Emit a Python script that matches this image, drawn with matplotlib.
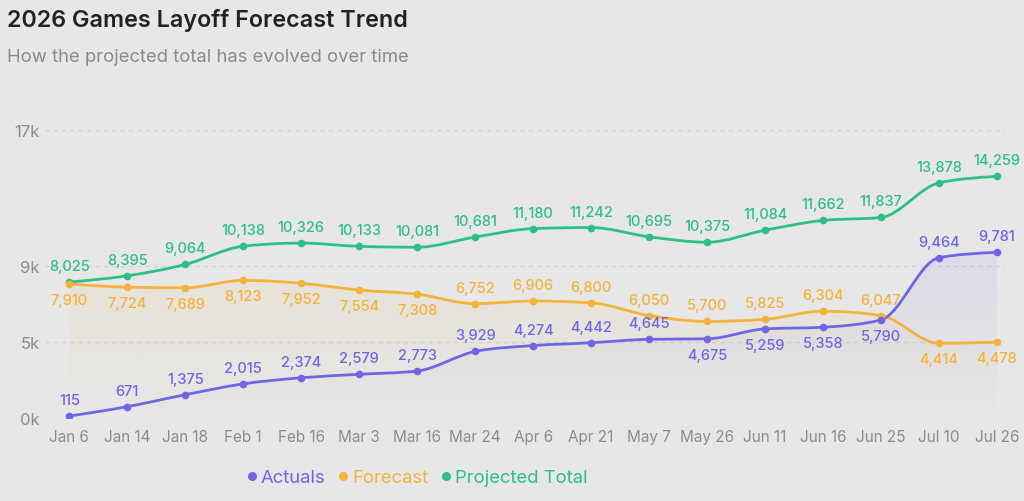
import numpy as np
import matplotlib
matplotlib.use('Agg')
import matplotlib.pyplot as plt
from matplotlib.path import Path
from matplotlib.patches import PathPatch
from matplotlib.lines import Line2D

plt.rcParams['font.family'] = ['Inter', 'DejaVu Sans']

# data
dates = ['Jan 6', 'Jan 14', 'Jan 18', 'Feb 1', 'Feb 16', 'Mar 3', 'Mar 16', 'Mar 24', 'Apr 6',
         'Apr 21', 'May 7', 'May 26', 'Jun 11', 'Jun 16', 'Jun 25', 'Jul 10', 'Jul 26']
actuals = [115, 671, 1375, 2015, 2374, 2579, 2773, 3929, 4274, 4442, 4645, 4675, 5259, 5358, 5790, 9464, 9781]
forecast = [7910, 7724, 7689, 8123, 7952, 7554, 7308, 6752, 6906, 6800, 6050, 5700, 5825, 6304, 6047, 4414, 4478]
projected = [8025, 8395, 9064, 10138, 10326, 10133, 10081, 10681, 11180, 11242, 10695, 10375, 11084, 11662, 11837, 13878, 14259]
ytick_vals = [0, 4500, 9000, 17000]
ytick_labels = ['0k', '5k', '9k', '17k']

# label side: 1 above the point, -1 below
actual_side = [1] * 11 + [-1, -1, -1, -1, 1, 1]
forecast_side = [-1] * 7 + [1] * 8 + [-1, -1]
projected_side = [1] * 17

purple = '#6f66e3'
orange = '#f4b43c'
green = '#2dbf86'
bg = '#e7e7e7'


def monotone_path(x, y):
    # cubic bezier path like d3 curveMonotoneX
    x = np.asarray(x, float)
    y = np.asarray(y, float)
    n = len(x)
    h = np.diff(x)
    s = np.diff(y) / h
    m = np.zeros(n)
    for i in range(1, n - 1):
        p = (s[i - 1] * h[i] + s[i] * h[i - 1]) / (h[i - 1] + h[i])
        m[i] = (np.sign(s[i - 1]) + np.sign(s[i])) * min(abs(s[i - 1]), abs(s[i]), 0.5 * abs(p))
    m[0] = (3 * s[0] - m[1]) / 2
    m[-1] = (3 * s[-1] - m[-2]) / 2
    verts = [(x[0], y[0])]
    codes = [Path.MOVETO]
    for i in range(n - 1):
        d = h[i] / 3
        verts += [(x[i] + d, y[i] + m[i] * d), (x[i + 1] - d, y[i + 1] - m[i + 1] * d), (x[i + 1], y[i + 1])]
        codes += [Path.CURVE4] * 3
    return verts, codes


fig = plt.figure(figsize=(10.24, 5.02), dpi=100, facecolor=bg)
ax = fig.add_axes([45 / 1024, (502 - 419) / 502, 960 / 1024, 288 / 502])
ax.set_facecolor(bg)
xs = np.arange(len(dates))
ax.set_xlim(-0.42, len(dates) - 1 + 0.14)
ax.set_ylim(0, 17000)

# faint gradient areas under actuals and forecast (fade downward)
for vals, col in [(actuals, purple), (forecast, orange)]:
    verts, codes = monotone_path(xs, vals)
    area = verts + [(xs[-1], 0), (xs[0], 0), (xs[0], vals[0])]
    acodes = codes + [Path.LINETO, Path.LINETO, Path.CLOSEPOLY]
    patch = PathPatch(Path(area, acodes), facecolor='none', edgecolor='none')
    ax.add_patch(patch)
    grad = np.zeros((100, 1, 4))
    grad[:, 0, :3] = matplotlib.colors.to_rgb(col)
    grad[:, 0, 3] = np.linspace(0.09, 0.0, 100)
    im = ax.imshow(grad, extent=[xs[0], xs[-1], 0, max(vals)], aspect='auto', zorder=1,
                   origin='upper', interpolation='bilinear')
    im.set_clip_path(patch)

for vals, col, sides in [(projected, green, projected_side), (forecast, orange, forecast_side),
                         (actuals, purple, actual_side)]:
    verts, codes = monotone_path(xs, vals)
    ax.add_patch(PathPatch(Path(verts, codes), facecolor='none', edgecolor=col, lw=2.0, zorder=3,
                           capstyle='round'))
    ax.plot(xs, vals, 'o', color=col, ms=4.5, zorder=4)
    for xi, v, sd in zip(xs, vals, sides):
        ax.annotate(f'{v:,}', (xi, v), xytext=(0, 11.5 * sd), textcoords='offset points',
                    ha='center', va='center', color=col, fontsize=10.5, fontweight='medium', zorder=5)

ax.set_yticks(ytick_vals)
ax.set_yticklabels(ytick_labels)
ax.set_xticks(xs)
ax.set_xticklabels(dates)
ax.tick_params(axis='both', length=0, colors='#8c8c8c', labelsize=11)
ax.tick_params(axis='x', pad=8)
ax.tick_params(axis='y', pad=4, labelsize=12)
for sp in ax.spines.values():
    sp.set_visible(False)
ax.grid(axis='y', color='#d2d2d2', linestyle=(0, (3, 3)), lw=1)
ax.set_axisbelow(True)

fig.text(7 / 1024, 1 - 20 / 502, '2026 Games Layoff Forecast Trend', fontsize=16.8, fontweight='semibold',
         color='#222222', va='center', ha='left')
fig.text(7 / 1024, 1 - 57 / 502, 'How the projected total has evolved over time', fontsize=13.3,
         color='#8a8a8a', va='center', ha='left')

handles = [Line2D([], [], marker='o', ls='none', color=c, ms=5.5) for c in (purple, orange, green)]
fig.legend(handles, ['Actuals', 'Forecast', 'Projected Total'], loc='center',
           bbox_to_anchor=(415 / 1024, 1 - 479 / 502), ncol=3, frameon=False, fontsize=13.3,
           labelcolor=[purple, orange, green], handletextpad=0.0, columnspacing=0.45, handlelength=1.0)

fig.savefig('out.png', dpi=100, facecolor=bg)
